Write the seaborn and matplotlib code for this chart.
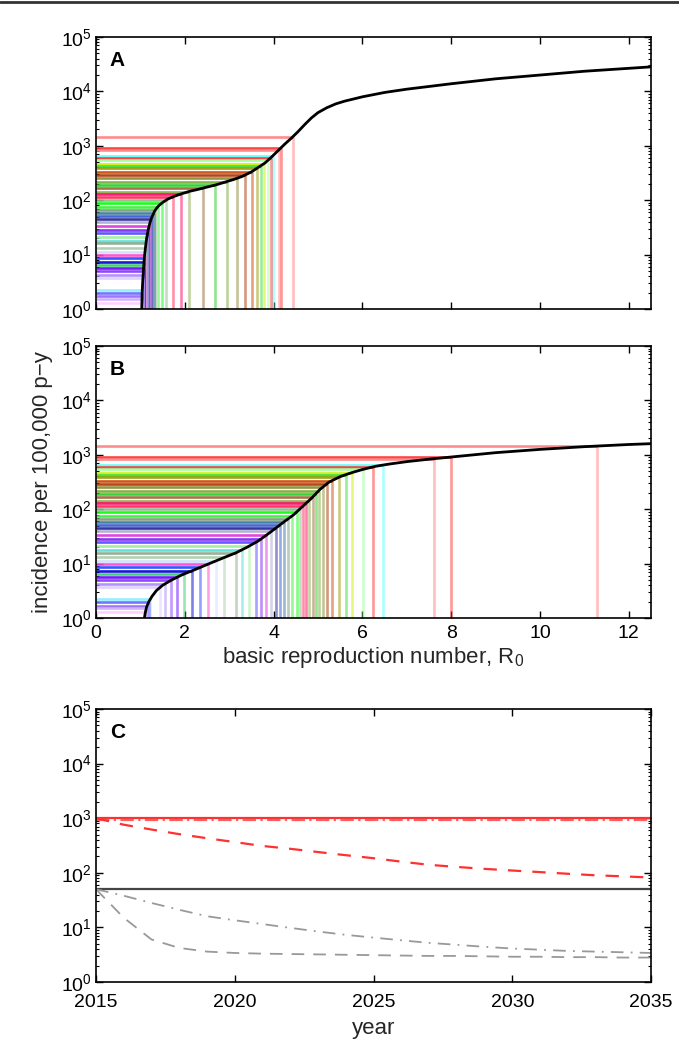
import numpy as np
import pandas as pd
import matplotlib
matplotlib.use("Agg")
import matplotlib.pyplot as plt
from matplotlib.lines import Line2D
from matplotlib.ticker import LogLocator, NullFormatter
import seaborn as sns

# Model equilibrium incidence (per 100,000 p-y) against R0, scenario A
curve_a_r0 = [1.03, 1.04, 1.05, 1.07, 1.09, 1.11, 1.14, 1.18, 1.22, 1.26, 1.32,
              1.38, 1.44, 1.52, 1.62, 1.73, 1.90, 2.10, 2.30, 2.50, 2.70, 2.90,
              3.10, 3.30, 3.50, 3.65, 3.80, 3.95, 4.10, 4.25, 4.40, 4.55, 4.70,
              4.85, 5.00, 5.20, 5.40, 5.60, 5.80, 6.00, 6.50, 7.00, 7.50, 8.00,
              9.00, 10.0, 11.0, 12.5]
curve_a_inc = [1.0, 2.0, 3.0, 5.6, 8.9, 12.6, 20, 29.5, 40, 49, 63,
               74, 83, 93, 105, 115, 129, 145, 158, 174, 191, 214,
               240, 275, 331, 398, 479, 617, 813, 1070, 1380, 1820, 2450,
               3240, 4070, 5010, 5890, 6610, 7240, 7940, 9550, 10970, 12300, 13800,
               17000, 19950, 23440, 28200]

# Model equilibrium incidence against R0, scenario B
curve_b_r0 = [1.09, 1.11, 1.14, 1.19, 1.26, 1.36, 1.50, 1.70, 1.95, 2.25, 2.55,
              2.85, 3.15, 3.40, 3.65, 3.85, 4.05, 4.25, 4.45, 4.65, 4.85, 5.05,
              5.25, 5.50, 5.75, 6.00, 6.30, 6.60, 7.00, 7.50, 8.00, 9.00, 10.0,
              11.0, 12.0, 12.5]
curve_b_inc = [1.0, 1.26, 1.6, 2.0, 2.5, 3.2, 4.0, 5.0, 6.3, 7.9, 10,
               12.6, 15.8, 20, 26, 34, 45, 60, 79, 112, 158, 234,
               316, 398, 468, 537, 617, 676, 750, 832, 912, 1096, 1259,
               1413, 1549, 1603]

# Observed country incidences and the colour used for each country
country_inc = [1450, 910, 850, 650, 600, 540, 470, 430, 390, 333, 290, 253,
               219, 190, 167, 144, 130, 115, 100, 89, 76, 66, 58, 51, 45, 39,
               33, 28, 25, 21, 18, 16, 13, 11.3, 9.8, 8.5, 7.4, 6.4, 5.6, 4.9,
               4.2, 3.7, 2.2, 2.0, 1.7, 1.5, 1.27]
country_color = ["#ff8080", "#ff3030", "#ff8080", "#55ffff", "#ff3030", "#99ff99",
                 "#ccee00", "#33dd33", "#999900", "#cc4400", "#aa3300", "#8a8a30",
                 "#77aa33", "#22cc22", "#996633", "#88aa44", "#ff0066", "#ff2255",
                 "#88bb88", "#00ff00", "#33ee33", "#779977", "#337799", "#3355cc",
                 "#222299", "#aaaacc", "#dd33dd", "#7722ee", "#5544ff", "#99ee99",
                 "#55dddd", "#88aa88", "#aaccaa", "#ccddff", "#ff44cc", "#2244ff",
                 "#0000cc", "#33cc66", "#6600ff", "#8833ff", "#aa88ff", "#ddccff",
                 "#88eeff", "#6666ff", "#9966ff", "#ccaaff", "#ffccff"]

# Projected incidence 2015-2035
proj_years = list(range(2015, 2036))
high_decline = [1000, 760, 620, 510, 430, 365, 310, 275, 240, 210, 185,
                160, 140, 128, 118, 110, 103, 96, 90, 86, 82]
low_slow = [50, 38, 28, 21, 16, 13.5, 11.5, 9.8, 8.4, 7.3, 6.5,
            5.8, 5.2, 4.8, 4.4, 4.1, 3.9, 3.7, 3.6, 3.5, 3.4]
low_fast = [50, 15, 6.0, 4.2, 3.6, 3.4, 3.3, 3.25, 3.2, 3.15, 3.1,
            3.05, 3.0, 3.0, 2.95, 2.9, 2.9, 2.85, 2.85, 2.8, 2.8]
flat_years = [2015, 2035]
high_flat = [1000, 1000]
high_flat_alt = [920, 920]
low_flat = [50, 50]

r0_ticks = [0, 2, 4, 6, 8, 10, 12]
year_ticks = [2015, 2020, 2025, 2030, 2035]

sns.set_theme(style="ticks")
plt.rcParams["font.family"] = ["Liberation Sans", "DejaVu Sans"]
plt.rcParams["mathtext.fontset"] = "custom"
plt.rcParams["mathtext.rm"] = "Liberation Sans"
plt.rcParams["mathtext.it"] = "Liberation Sans:italic"
plt.rcParams["axes.linewidth"] = 1.2
plt.rcParams["axes.edgecolor"] = "black"

TICK_FS = 14
LABEL_FS = 16
COUNTRY_LW = 1.9

fig = plt.figure(figsize=(6.79, 10.41), dpi=100)
ax_a = fig.add_axes([0.1414, 0.7032, 0.8174, 0.2613])
ax_b = fig.add_axes([0.1414, 0.4063, 0.8174, 0.2613])
ax_c = fig.add_axes([0.1414, 0.0567, 0.8174, 0.2622])


def style_log_axis(ax, xpad=5):
    ax.set_yscale("log")
    ax.set_ylim(1, 1e5)
    ax.yaxis.set_major_locator(LogLocator(base=10, numticks=10))
    ax.yaxis.set_minor_locator(LogLocator(base=10, subs=np.arange(2, 10), numticks=10))
    ax.yaxis.set_minor_formatter(NullFormatter())
    ax.tick_params(which="both", direction="in", top=True, right=True,
                   colors="black", labelsize=TICK_FS)
    ax.tick_params(which="major", length=5, width=1.0)
    ax.tick_params(which="minor", length=2.5, width=0.8)
    ax.tick_params(axis="y", pad=3)
    ax.tick_params(axis="x", pad=xpad)
    for s in ax.spines.values():
        s.set_visible(True)
        s.set_color("black")


def draw_r0_panel(ax, r0s, incs, tag, show_xlabels):
    # place each country on the model curve at its observed incidence
    country_r0 = np.interp(np.log10(country_inc), np.log10(incs), r0s)
    ax.hlines(country_inc, 0, country_r0, colors=country_color, lw=COUNTRY_LW,
              alpha=0.9, zorder=2)
    ax.vlines(country_r0, 1, country_inc, colors=country_color, lw=COUNTRY_LW,
              alpha=0.5, zorder=2)
    sns.lineplot(x=r0s, y=incs, ax=ax, color="black", lw=2.0, zorder=5,
                 estimator=None, sort=False)
    style_log_axis(ax)
    ax.set_xlim(0, 12.5)
    ax.set_xticks(r0_ticks)
    ax.xaxis.set_minor_locator(plt.NullLocator())
    if not show_xlabels:
        ax.set_xticklabels([])
    ax.set_xlabel("")
    ax.set_ylabel("")
    ax.text(0.025, 0.95, tag, transform=ax.transAxes, ha="left", va="top",
            fontsize=15, fontweight="bold", color="black")


draw_r0_panel(ax_a, curve_a_r0, curve_a_inc, "A", False)
draw_r0_panel(ax_b, curve_b_r0, curve_b_inc, "B", True)
ax_b.set_xlabel("basic reproduction number, R$_0$", fontsize=LABEL_FS, labelpad=2)
ax_b.set_ylabel("incidence per 100,000 p\u2212y", fontsize=LABEL_FS, labelpad=6)

# projections
sns.lineplot(x=flat_years, y=high_flat, ax=ax_c, color="#ff3030", lw=1.6)
sns.lineplot(x=flat_years, y=high_flat_alt, ax=ax_c, color="#ff6060", lw=1.6,
             linestyle=(0, (6, 2, 1, 2)))
sns.lineplot(x=proj_years, y=high_decline, ax=ax_c, color="#ff3030", lw=1.6,
             linestyle=(0, (6, 5)))
sns.lineplot(x=flat_years, y=low_flat, ax=ax_c, color="#444444", lw=1.6)
sns.lineplot(x=proj_years, y=low_slow, ax=ax_c, color="#999999", lw=1.3,
             linestyle=(0, (7, 4, 1, 4)))
sns.lineplot(x=proj_years, y=low_fast, ax=ax_c, color="#999999", lw=1.3,
             linestyle=(0, (7, 5)))
style_log_axis(ax_c, xpad=9)
ax_c.set_xlim(2015, 2035)
ax_c.set_xticks(year_ticks)
ax_c.set_xticklabels([str(y) for y in year_ticks])
ax_c.xaxis.set_minor_locator(plt.NullLocator())
ax_c.set_ylabel("")
ax_c.set_xlabel("year", fontsize=LABEL_FS, labelpad=5)
ax_c.text(0.025, 0.95, "C", transform=ax_c.transAxes, ha="left", va="top",
          fontsize=15, fontweight="bold", color="black")

# rule across the top edge
fig.add_artist(Line2D([0, 1], [0.998, 0.998], transform=fig.transFigure,
                      color="#333333", lw=2))

fig.savefig("out.png", dpi=100, facecolor="white")
